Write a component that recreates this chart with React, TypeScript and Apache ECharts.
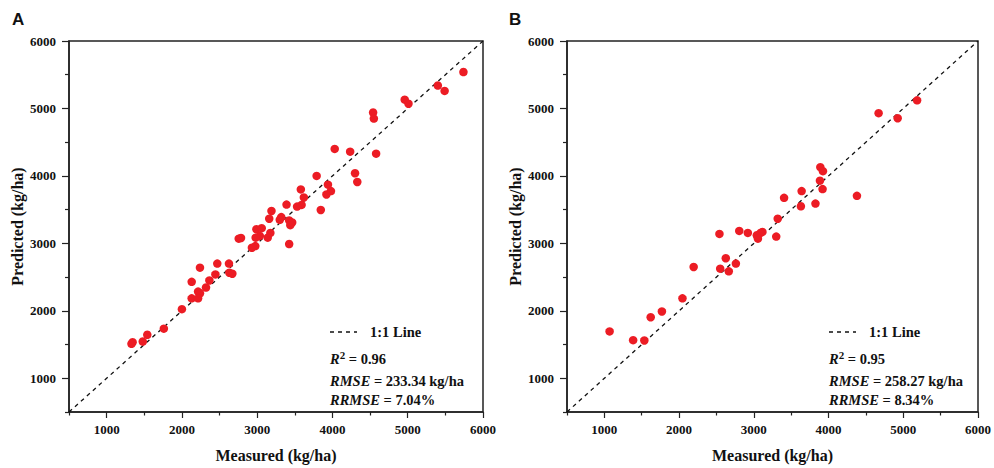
import React, { useEffect, useRef } from "react";
import * as echarts from "echarts";

// Panel A: [measured, predicted]
const panelA: number[][] = [
  [5740, 5540], [5400, 5340], [5490, 5260], [4960, 5130], [5010, 5070],
  [4540, 4940], [4550, 4850], [4030, 4400], [4235, 4360], [4580, 4330],
  [4300, 4040], [4330, 3910], [3790, 4000], [3940, 3870], [3980, 3775],
  [3920, 3725], [3580, 3800], [3620, 3680], [3590, 3570], [3530, 3545],
  [3845, 3495], [3390, 3575], [3190, 3480], [3160, 3365], [3320, 3390],
  [3300, 3350], [3425, 3340], [3465, 3310], [3440, 3270], [3425, 2990],
  [2990, 3210], [3060, 3225], [3035, 3110], [2980, 3085], [3140, 3085],
  [3175, 3155], [2975, 2960], [2930, 2935], [2755, 3070], [2785, 3080],
  [2470, 2700], [2625, 2700], [2630, 2565], [2670, 2550], [2445, 2540],
  [2240, 2640], [2130, 2430], [2365, 2450], [2320, 2345], [2215, 2285],
  [2240, 2260], [2130, 2185], [2215, 2185], [2000, 2025], [1760, 1735],
  [1540, 1645], [1480, 1545], [1345, 1535], [1330, 1510],
];

// Panel B: [measured, predicted]
const panelB: number[][] = [
  [5185, 5120], [4670, 4930], [4925, 4855], [3890, 4130], [3925, 4070],
  [3885, 3930], [3920, 3805], [4380, 3705], [3640, 3775], [3630, 3550],
  [3825, 3590], [3405, 3675], [3320, 3365], [3300, 3100], [3115, 3170],
  [3090, 3155], [3040, 3120], [3055, 3070], [2920, 3155], [2805, 3185],
  [2540, 3140], [2625, 2780], [2760, 2700], [2550, 2625], [2665, 2585],
  [2195, 2650], [2045, 2185], [1770, 1990], [1620, 1905], [1070, 1695],
  [1385, 1565], [1535, 1560],
];

const oneToOne: number[][] = [[500, 500], [6000, 6000]];
const majorTicks = [1000, 2000, 3000, 4000, 5000, 6000];
const minorTicks = [500, 1500, 2500, 3500, 4500, 5500];

const statsA = { r2: "0.96", rmse: "233.34 kg/ha", rrmse: "7.04%" };
const statsB = { r2: "0.95", rmse: "258.27 kg/ha", rrmse: "8.34%" };

const SERIF = "Liberation Serif";
const RED = "#ec1c24";

export default function App() {
  const ref = useRef<HTMLDivElement>(null);
  useEffect(() => {
    if (!ref.current) return;
    const chart = echarts.init(ref.current, null, { renderer: "svg" });

    const grids = [
      { left: 69, top: 41, width: 414, height: 374 },
      { left: 567, top: 41, width: 414, height: 374 },
    ].map((g) => ({
      ...g,
      show: true,
      borderColor: "#222",
      borderWidth: 1.5,
      backgroundColor: "transparent",
    }));

    const fmt = (v: number) => String(Math.round(v));
    const tickLabel = {
      customValues: majorTicks,
      formatter: fmt,
      fontFamily: SERIF,
      fontWeight: "bold",
      fontSize: 13,
      color: "#111",
    };

    const mainX = (gi: number) => ({
      type: "value",
      gridIndex: gi,
      min: 500,
      max: 6000,
      name: "Measured (kg/ha)",
      nameLocation: "middle",
      nameGap: 35,
      nameTextStyle: { fontFamily: SERIF, fontWeight: "bold", fontSize: 16, color: "#111" },
      axisLine: { show: true, lineStyle: { color: "#222", width: 1.5 } },
      axisTick: { show: true, length: 6, customValues: majorTicks, lineStyle: { color: "#222", width: 1.2 } },
      axisLabel: { ...tickLabel, margin: 11 },
      splitLine: { show: false },
    });
    const minorX = (gi: number) => ({
      type: "value",
      gridIndex: gi,
      position: "bottom",
      min: 500,
      max: 6000,
      axisLine: { show: false },
      axisTick: { show: true, length: 3.5, customValues: minorTicks, lineStyle: { color: "#222", width: 1.2 } },
      axisLabel: { show: false },
      splitLine: { show: false },
    });
    const mainY = (gi: number) => ({
      type: "value",
      gridIndex: gi,
      min: 500,
      max: 6000,
      name: "Predicted (kg/ha)",
      nameLocation: "middle",
      nameGap: 44,
      nameTextStyle: { fontFamily: SERIF, fontWeight: "bold", fontSize: 16, color: "#111" },
      axisLine: { show: true, lineStyle: { color: "#222", width: 1.5 } },
      axisTick: { show: true, length: 7, customValues: majorTicks, lineStyle: { color: "#222", width: 1.2 } },
      axisLabel: { ...tickLabel, margin: 13 },
      splitLine: { show: false },
    });
    const minorY = (gi: number) => ({
      type: "value",
      gridIndex: gi,
      position: "left",
      min: 500,
      max: 6000,
      axisLine: { show: false },
      axisTick: { show: true, length: 4, customValues: minorTicks, lineStyle: { color: "#222", width: 1.2 } },
      axisLabel: { show: false },
      splitLine: { show: false },
    });

    const scatter = (gi: number, data: number[][]) => ({
      type: "scatter",
      xAxisIndex: gi * 2,
      yAxisIndex: gi * 2,
      data,
      symbol: "circle",
      symbolSize: 8.5,
      itemStyle: { color: RED, opacity: 1 },
      z: 3,
    });
    const line = (gi: number) => ({
      type: "line",
      name: "1:1 Line",
      xAxisIndex: gi * 2,
      yAxisIndex: gi * 2,
      data: oneToOne,
      symbol: "none",
      lineStyle: { color: "#111", width: 1.3, type: [4, 4] },
      z: 2,
    });

    const rich = {
      i: { fontFamily: SERIF, fontWeight: "bold", fontStyle: "italic", fontSize: 14.5, fill: "#111", color: "#111" },
      n: { fontFamily: SERIF, fontWeight: "bold", fontSize: 14.5, fill: "#111", color: "#111" },
      s: { fontFamily: SERIF, fontWeight: "bold", fontSize: 11, fill: "#111", color: "#111", verticalAlign: "top", padding: [0, 0, 9, 0] },
    };

    const annot = (x: number, st: typeof statsA) => [
      {
        type: "line",
        shape: { x1: x, y1: 332, x2: x + 27, y2: 332 },
        style: { stroke: "#111", lineWidth: 1.3, lineDash: [4, 4] },
      },
      {
        type: "text",
        x: x + 40,
        y: 332,
        style: {
          text: "1:1 Line",
          fontFamily: SERIF,
          fontWeight: "bold",
          fontSize: 14.5,
          fill: "#111",
          verticalAlign: "middle",
        },
      },
      {
        type: "text",
        x: x,
        y: 359,
        style: { text: "{i|R}{s|2}{n| = " + st.r2 + "}", rich, verticalAlign: "middle" },
      },
      {
        type: "text",
        x: x,
        y: 381,
        style: { text: "{i|RMSE}{n| = " + st.rmse + "}", rich, verticalAlign: "middle" },
      },
      {
        type: "text",
        x: x,
        y: 400,
        style: { text: "{i|RRMSE}{n| = " + st.rrmse + "}", rich, verticalAlign: "middle" },
      },
    ];

    chart.setOption({
      animation: false,
      backgroundColor: "#fff",
      textStyle: { fontFamily: SERIF },
      grid: grids,
      xAxis: [mainX(0), minorX(0), mainX(1), minorX(1)],
      yAxis: [mainY(0), minorY(0), mainY(1), minorY(1)],
      series: [line(0), scatter(0, panelA), line(1), scatter(1, panelB)],
      graphic: [
        {
          type: "text",
          x: 12,
          y: 11,
          style: { text: "A", fontFamily: "Liberation Sans", fontWeight: "bold", fontSize: 17, fill: "#111" },
        },
        {
          type: "text",
          x: 509,
          y: 11,
          style: { text: "B", fontFamily: "Liberation Sans", fontWeight: "bold", fontSize: 17, fill: "#111" },
        },
        ...annot(330, statsA),
        ...annot(829, statsB),
      ],
    });
    return () => chart.dispose();
  }, []);

  return <div ref={ref} style={{ width: 994, height: 468, position: "absolute", left: 0, top: 0 }} />;
}
